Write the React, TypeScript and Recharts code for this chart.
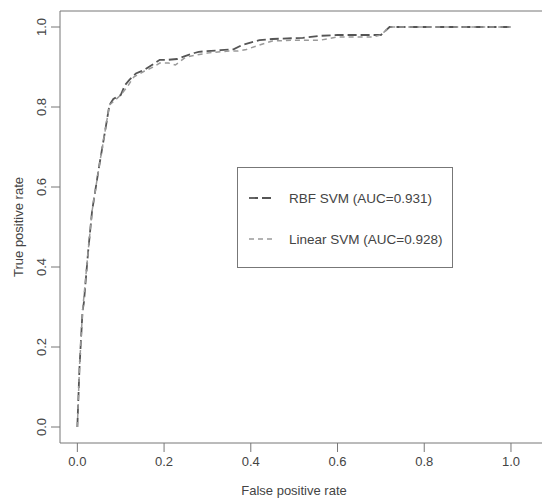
import React from 'react';
import { LineChart, Line, XAxis, YAxis, ReferenceLine, Legend } from 'recharts';

// --- data ---
const xTicks = [0, 0.2, 0.4, 0.6, 0.8, 1.0];
const yTicks = [0, 0.2, 0.4, 0.6, 0.8, 1.0];

const rbfFpr = [0, 0.005, 0.012, 0.015, 0.025, 0.034, 0.05, 0.064, 0.074, 0.083, 0.1, 0.11, 0.12, 0.135, 0.155, 0.172, 0.19, 0.21, 0.23, 0.245, 0.27, 0.28, 0.33, 0.36, 0.38, 0.42, 0.45, 0.52, 0.56, 0.6, 0.7, 0.72, 1.0];
const rbfTpr = [0, 0.15, 0.29, 0.31, 0.44, 0.54, 0.65, 0.74, 0.805, 0.82, 0.83, 0.855, 0.868, 0.884, 0.893, 0.905, 0.918, 0.918, 0.92, 0.926, 0.935, 0.938, 0.942, 0.944, 0.955, 0.967, 0.97, 0.973, 0.978, 0.98, 0.98, 1.0, 1.0];

const linFpr = [0, 0.005, 0.012, 0.025, 0.034, 0.05, 0.064, 0.074, 0.085, 0.1, 0.115, 0.13, 0.155, 0.175, 0.19, 0.21, 0.226, 0.25, 0.3, 0.35, 0.37, 0.39, 0.42, 0.45, 0.5, 0.56, 0.6, 0.68, 0.7, 0.72, 1.0];
const linTpr = [0, 0.15, 0.29, 0.44, 0.54, 0.65, 0.74, 0.805, 0.815, 0.83, 0.85, 0.875, 0.89, 0.9, 0.91, 0.91, 0.905, 0.925, 0.935, 0.94, 0.94, 0.944, 0.955, 0.965, 0.967, 0.967, 0.975, 0.975, 0.98, 1.0, 1.0];

const seriesNames = ['RBF SVM (AUC=0.931)', 'Linear SVM (AUC=0.928)'];

const toPoints = (xs: number[], ys: number[]) => xs.map((x, i) => ({ fpr: x, tpr: ys[i] }));
const rbfData = toPoints(rbfFpr, rbfTpr);
const linData = toPoints(linFpr, linTpr);

const FONT = '"Liberation Sans", Arial, sans-serif';
const TEXT = '#444';
const AXIS = '#777';
const RBF_COLOR = '#555';
const LIN_COLOR = '#9a9a9a';

const XTick = ({ x, y, payload }: any) => (
  <text x={x} y={y} dy="0.9em" textAnchor="middle" fill={TEXT} fontSize={13} fontFamily={FONT}>
    {Number(payload.value).toFixed(1)}
  </text>
);

const YTick = ({ y, payload }: any) => {
  const cx = 41;
  return (
    <text
      x={cx}
      y={y}
      dy="0.35em"
      textAnchor="middle"
      transform={`rotate(-90, ${cx}, ${y})`}
      fill={TEXT}
      fontSize={13}
      fontFamily={FONT}
    >
      {Number(payload.value).toFixed(1)}
    </text>
  );
};

const LegendBox = () => {
  const rows = [
    { name: seriesNames[0], color: RBF_COLOR, dash: '9 4', w: 1.8 },
    { name: seriesNames[1], color: LIN_COLOR, dash: '5 4', w: 1.5 },
  ];
  return (
    <div
      style={{
        width: 214,
        height: 99,
        border: `1px solid ${AXIS}`,
        background: '#fff',
        position: 'relative',
        fontFamily: FONT,
        fontSize: 13.5,
        color: TEXT,
      }}
    >
      {rows.map((r, i) => (
        <div
          key={r.name}
          style={{ position: 'absolute', left: 11, top: 20 + i * 41, display: 'flex', alignItems: 'center', height: 20 }}
        >
          <svg width={26} height={6} style={{ marginRight: 14 }}>
            <line x1={0} y1={3} x2={26} y2={3} stroke={r.color} strokeWidth={r.w} strokeDasharray={r.dash} />
          </svg>
          <span style={{ whiteSpace: 'nowrap' }}>{r.name}</span>
        </div>
      ))}
    </div>
  );
};

export default function App() {
  return (
    <div style={{ position: 'absolute', left: 0, top: 0, width: 542, height: 499, overflow: 'hidden', background: '#fff' }}>
      {/* XAxis takes 30px of its own below the plot, so bottom margin = 56 - 30 */}
      <LineChart width={550} height={499} margin={{ top: 11, right: 0, bottom: 26, left: 0 }}>
        <XAxis
          dataKey="fpr"
          type="number"
          domain={[-0.04, 1.09]}
          ticks={xTicks}
          allowDataOverflow
          axisLine={{ stroke: AXIS }}
          tickLine={{ stroke: AXIS }}
          tickSize={9}
          tick={<XTick />}
        />
        <YAxis
          type="number"
          domain={[-0.04, 1.04]}
          ticks={yTicks}
          allowDataOverflow
          width={60}
          axisLine={{ stroke: AXIS }}
          tickLine={{ stroke: AXIS }}
          tickSize={9}
          tick={<YTick />}
        />
        <ReferenceLine y={1.04} stroke={AXIS} ifOverflow="visible" />
        <Line
          data={rbfData}
          dataKey="tpr"
          name={seriesNames[0]}
          type="linear"
          stroke={RBF_COLOR}
          strokeWidth={1.8}
          strokeDasharray="9 4"
          dot={false}
          isAnimationActive={false}
        />
        <Line
          data={linData}
          dataKey="tpr"
          name={seriesNames[1]}
          type="linear"
          stroke={LIN_COLOR}
          strokeWidth={1.5}
          strokeDasharray="5 4"
          dot={false}
          isAnimationActive={false}
        />
        <Legend
          layout="horizontal"
          verticalAlign="middle"
          align="center"
          content={<LegendBox />}
          wrapperStyle={{ position: 'absolute', left: 237, top: 167, width: 216, height: 101 }}
        />
      </LineChart>
      <div
        style={{
          position: 'absolute',
          left: 0,
          top: 483,
          width: 588,
          textAlign: 'center',
          fontFamily: FONT,
          fontSize: 13,
          color: TEXT,
        }}
      >
        False positive rate
      </div>
      <div
        style={{
          position: 'absolute',
          left: 18,
          top: 227,
          transform: 'translate(-50%, -50%) rotate(-90deg)',
          whiteSpace: 'nowrap',
          fontFamily: FONT,
          fontSize: 13,
          color: TEXT,
        }}
      >
        True positive rate
      </div>
    </div>
  );
}
